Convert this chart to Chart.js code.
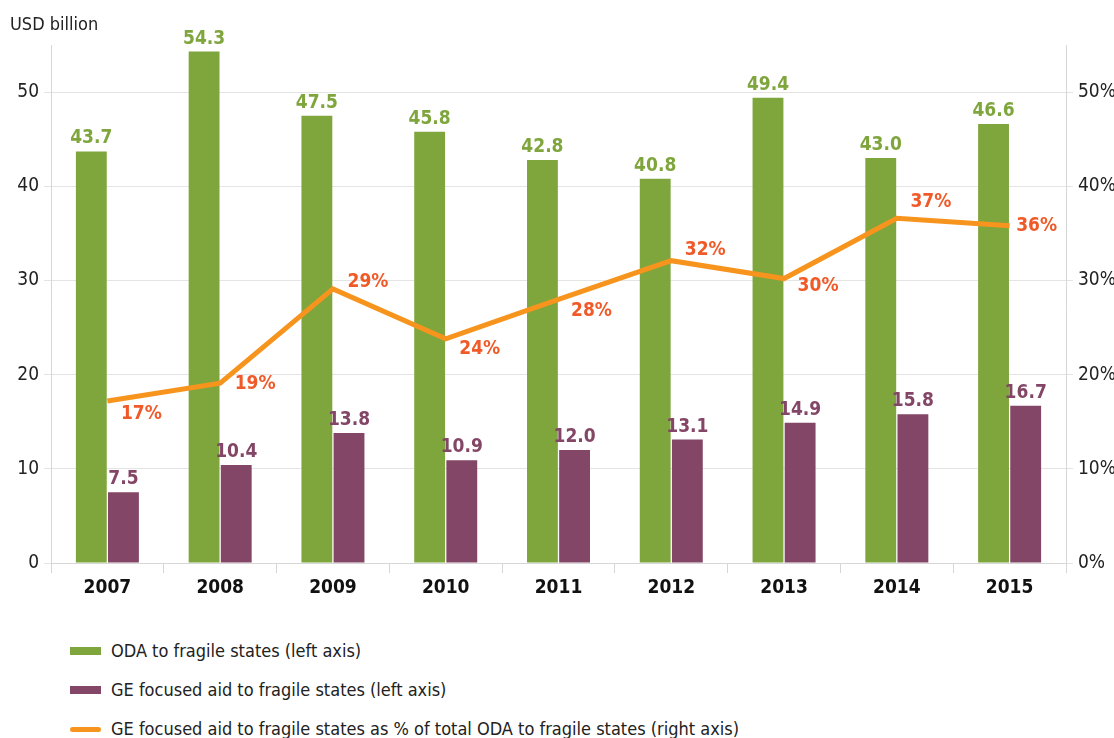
<!DOCTYPE html>
<html><head><meta charset="utf-8">
<script src="https://cdn.jsdelivr.net/npm/chart.js@4/dist/chart.umd.min.js"></script>
<style>
body{margin:0;background:#fff;font-family:'Liberation Sans Narrow','DejaVu Sans Condensed',sans-serif;}
#wrap{position:relative;width:1114px;height:738px;overflow:hidden}
#c{position:absolute;left:0;top:0;}
.leg{position:absolute;left:70px;font-size:18px;color:#222;height:24px;line-height:24px;white-space:nowrap}
.sw{display:inline-block;width:31px;height:8px;vertical-align:middle;margin-right:10px;position:relative;top:-1px}
.swl{display:inline-block;width:31px;height:5px;border-radius:3px;vertical-align:middle;margin-right:10px;position:relative;top:-1px}
</style></head>
<body>
<div id="wrap">
<canvas id="c" width="1114" height="610"></canvas>
<div class="leg" style="top:639px"><span class="sw" style="background:#7FA53D"></span>ODA to fragile states (left axis)</div>
<div class="leg" style="top:678px"><span class="sw" style="background:#834666"></span>GE focused aid to fragile states (left axis)</div>
<div class="leg" style="top:717px"><span class="swl" style="background:#F7941D"></span>GE focused aid to fragile states as % of total ODA to fragile states (right axis)</div>
</div>
<script>
const categories = ['2007','2008','2009','2010','2011','2012','2013','2014','2015'];
const odaValues = [43.7, 54.3, 47.5, 45.8, 42.8, 40.8, 49.4, 43.0, 46.6];
const geValues = [7.5, 10.4, 13.8, 10.9, 12.0, 13.1, 14.9, 15.8, 16.7];
const geShareValues = [17.2, 19.1, 29.1, 23.8, 28.0, 32.1, 30.2, 36.6, 35.8];
const geShareLabels = ['17%','19%','29%','24%','28%','32%','30%','37%','36%'];
const leftTickValues = [0, 10, 20, 30, 40, 50];
const rightTickLabels = ['0%','10%','20%','30%','40%','50%'];
const yAxisTitle = 'USD billion';

const FONT = "'Liberation Sans Narrow','DejaVu Sans Condensed',sans-serif";
const GREEN = '#7FA53D', PURPLE = '#834666', ORANGE = '#F7941D', LABELRED = '#F05A28';
// label placement for percentage labels (dx, dy in px from point)
const pctPlacement = [[34,13],[35,1],[35,-7],[34,10],[33,12],[34,-11],[34,7],[34,-16],[27,0]];

const labelPlugin = {
  id: 'valueLabels',
  afterDatasetsDraw(chart) {
    const ctx = chart.ctx;
    ctx.save();
    ctx.textAlign = 'center';
    [0,1].forEach(di => {
      const meta = chart.getDatasetMeta(di);
      const ds = chart.data.datasets[di];
      ctx.fillStyle = di === 0 ? GREEN : PURPLE;
      ctx.font = 'bold 19px ' + FONT;
      ctx.textBaseline = 'alphabetic';
      meta.data.forEach((el, i) => {
        ctx.fillText(ds.data[i].toFixed(1), el.x, el.y - 8);
      });
    });
    const lm = chart.getDatasetMeta(2);
    ctx.fillStyle = LABELRED;
    ctx.font = 'bold 19px ' + FONT;
    ctx.textBaseline = 'middle';
    lm.data.forEach((el, i) => {
      const p = pctPlacement[i];
      ctx.fillText(geShareLabels[i], el.x + p[0], el.y + p[1]);
    });
    // axis title
    ctx.textAlign = 'left';
    ctx.textBaseline = 'alphabetic';
    ctx.fillStyle = '#222';
    ctx.font = '18px ' + FONT;
    ctx.fillText(yAxisTitle, 10, 30);
    ctx.restore();
  }
};

const keepTens = axis => { axis.ticks = axis.ticks.filter(t => leftTickValues.includes(t.value)); };

new Chart(document.getElementById('c'), {
  data: {
    labels: categories,
    datasets: [
      {type:'bar', label:'ODA to fragile states (left axis)', data: odaValues, backgroundColor: GREEN, yAxisID:'y', order:1, barPercentage:0.96, categoryPercentage:0.57},
      {type:'bar', label:'GE focused aid to fragile states (left axis)', data: geValues, backgroundColor: PURPLE, yAxisID:'y', order:1, barPercentage:0.96, categoryPercentage:0.57},
      {type:'line', label:'GE focused aid to fragile states as % of total ODA to fragile states (right axis)', data: geShareValues, borderColor: ORANGE, backgroundColor: ORANGE, borderWidth:5, pointRadius:0, tension:0, yAxisID:'y1', order:0, borderJoinStyle:'miter'}
    ]
  },
  options: {
    responsive:false, animation:false, devicePixelRatio:1,
    layout:{padding:{top:45,left:0,right:0,bottom:0}},
    plugins:{legend:{display:false}, tooltip:{enabled:false}},
    scales:{
      x:{
        grid:{offset:true, drawOnChartArea:false, color:'#d6d6d6', tickLength:10},
        border:{color:'#d6d6d6'},
        ticks:{color:'#111', font:{family:FONT, size:19, weight:'bold'}, padding:4},
        afterFit(a){ a.height = 47; }
      },
      y:{
        position:'left', min:0, max:55,
        ticks:{stepSize:10, color:'#222', font:{family:FONT, size:19}, padding:5},
        afterBuildTicks: keepTens,
        grid:{color:'#e4e4e4', tickLength:7},
        border:{color:'#d6d6d6'},
        afterFit(a){ a.width = 51; }
      },
      y1:{
        position:'right', min:0, max:55,
        ticks:{stepSize:10, color:'#222', font:{family:FONT, size:19}, padding:5, callback:(v)=> rightTickLabels[leftTickValues.indexOf(v)]},
        afterBuildTicks: keepTens,
        grid:{drawOnChartArea:false, color:'#e4e4e4', tickLength:7},
        border:{color:'#d6d6d6'},
        afterFit(a){ a.width = 48; }
      }
    }
  },
  plugins:[labelPlugin]
});
</script>
</body></html>
